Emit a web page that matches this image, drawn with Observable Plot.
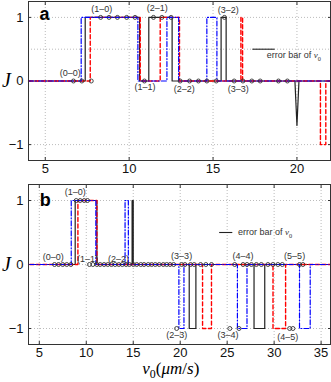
<!DOCTYPE html>
<html><head><meta charset="utf-8">
<script src="https://cdn.jsdelivr.net/npm/d3@7"></script>
<script src="https://cdn.jsdelivr.net/npm/@observablehq/plot@0.6"></script>
<style>
body{margin:0;background:#fff;}
#chart{width:331px;}
#chart svg{display:block;}
</style></head><body><div id="chart"></div>
<script>
// ---------- tick values ----------
const yTicks = [-1, 0, 1];
const gridYA = [-1, 0.5, 1];
const xTicksA = [5, 10, 15, 20];
const xTicksB = [5, 10, 15, 20, 25, 30, 35];

// ---------- panel a : step series (x breakpoints, J after breakpoint) ----------
const blackAx = [4, 7.38, 10.62, 11.17, 12.56, 15.48, 15.78, 22];
const blackAj = [0, 1, 0, 1, 0, 1, 0, 0];
const spikeAx = [19.88, 20.0, 20.12];
const spikeAj = [0, -0.7, 0];
const redAx = [4, 7.68, 10.66, 11.85, 13.0, 16.66, 16.76, 21.4, 21.72, 22];
const redAj = [0, 1, 0, 1, 0, 1, 0, -1, 0, 0];
const blueAx = [4, 7.14, 10.52, 12.25, 12.95, 14.63, 15.23, 22];
const blueAj = [0, 1, 0, 1, 0, 1, 0, 0];
// circles (experimental points)
const circA0 = [6.68, 7.18, 7.74, 10.91, 13.04, 13.6, 14.13, 14.63, 15.19, 16.26, 16.78, 17.31, 17.81, 18.9, 19.43];
const circA1 = [8.3, 8.8, 9.3, 9.85, 10.35, 11.45, 11.95, 12.5, 15.68];
// state labels
const labelsA = ["(0–0)", "(1–0)", "(1–1)", "(2–1)", "(2–2)", "(3–2)", "(3–3)"];
const labelAx = [6.49, 8.37, 10.95, 11.67, 13.28, 15.9, 16.5];
const labelAy = [0.13, 1.13, -0.1, 1.14, -0.12, 1.12, -0.12];
const errAx = [17.37, 18.7];
const errAy = 0.5;
const errTextA = {x: 18.2, y: 0.4};

// ---------- panel b ----------
const blackBx = [4, 8.82, 11.13, 14.88, 15.0, 20.96, 21.67, 27.86, 29.0, 36];
const blackBj = [0, 1, 0, 1, 0, -1, 0, -1, 0, 0];
const redBx = [4, 9.11, 11.13, 22.38, 23.33, 29.88, 31.22, 36];
const redBj = [0, 1, 0, -1, 0, -1, 0, 0];
const blueBx = [4, 8.4, 11.02, 14.13, 14.48, 19.86, 20.4, 26.09, 27.11, 32.7, 33.84, 36];
const blueBj = [0, 1, 0, 1, 0, -1, 0, -1, 0, -1, 0, 0];
const circB0 = [6.62, 7.05, 7.49, 7.92, 8.36,
  10.34, 10.7, 11.13, 11.48, 11.9, 12.29, 12.68, 13.07, 13.46, 13.84, 14.24, 14.59, 15.01, 15.37, 15.8, 16.15, 16.6, 16.96, 17.35, 17.77, 18.2, 18.56, 18.92, 19.3,
  20.15, 20.5, 21.1, 21.49, 22.17, 22.73, 23.33,
  25.8, 26.69, 27.11, 27.58, 28.11, 28.64, 29.34, 29.87, 30.4, 30.87,
  32.7, 33.06];
const circB1 = [8.93, 9.35, 9.78, 10.13];
const circBm1 = [19.62, 25.28, 26.26, 31.65, 32.0];
const labelsB = ["(0–0)", "(1–0)", "(1–1)", "(2–2)", "(3–3)", "(4–4)", "(5–5)", "(2–3)", "(3–4)", "(4–5)"];
const labelBx = [6.49, 8.82, 10.13, 13.42, 20.15, 26.69, 32.18, 19.62, 25.1, 31.46];
const labelBy = [0.11, 1.13, 0.09, 0.09, 0.13, 0.13, 0.13, -1.11, -1.11, -1.13];
const errBx = [24.2, 25.6];
const errBy = 0.5;
const errTextB = {x: 26.16, y: 0.5};

// ---------- helpers ----------
const rows = (xs, js) => xs.map((x, i) => ({x, y: js[i]}));
const pts = (xs, j) => xs.map(x => ({x, y: j}));
const lbls = (ts, xs, ys) => ts.map((t, i) => ({x: xs[i], y: ys[i], t}));
const intFmt = d => (d < 0 ? "\u2212" : "") + Math.abs(d);

const FONT = "Liberation Sans, Arial, Helvetica, sans-serif";
const SERIF = "Liberation Serif, Times New Roman, serif";
const styleBlack = {stroke: "#222", strokeWidth: 1.2};
const styleRed = {stroke: "#ff0000", strokeWidth: 1.4, strokeDasharray: "4,2.5"};
const styleBlue = {stroke: "#0000ff", strokeWidth: 1.2, strokeDasharray: "5,2,1,2"};

function panel(o) {
  const marks = [
    Plot.gridX(o.xTicks, {stroke: "#bbb", strokeOpacity: 1, strokeDasharray: "1,2"}),
    Plot.gridY(o.gridY, {stroke: "#bbb", strokeOpacity: 1, strokeDasharray: "1,2"}),
    Plot.axisX(o.xTicks, {anchor: "bottom", tickSize: 0, tickPadding: 3, label: null, tickFormat: intFmt, fontSize: 13, fill: "#111"}),
    Plot.axisY(yTicks, {anchor: "left", tickSize: 0, tickPadding: 5, label: null, tickFormat: intFmt, fontSize: 13, fill: "#111"}),
    Plot.axisX(o.xTicks, {anchor: "bottom", tickSize: -3, tickFormat: () => "", label: null, stroke: "#333"}),
    Plot.axisX(o.xTicks, {anchor: "top", tickSize: -3, tickFormat: () => "", label: null, stroke: "#333"}),
    Plot.axisY(yTicks, {anchor: "left", tickSize: -3, tickFormat: () => "", label: null, stroke: "#333"}),
    Plot.axisY(yTicks, {anchor: "right", tickSize: -3, tickFormat: () => "", label: null, stroke: "#333"}),
    ...o.series.map(s => Plot.line(s.data, {x: "x", y: "y", curve: s.curve || "step-after", ...s.style})),
    Plot.ruleY([{x1: o.err[0], x2: o.err[1], y: o.errY}], {x1: "x1", x2: "x2", y: "y", stroke: "#222", strokeWidth: 1.1}),
    Plot.text([o.errText], {x: "x", y: "y", text: () => "error bar of v0", textAnchor: "start", fontSize: 9, fill: "#333", fontFamily: FONT}),
    Plot.dot(o.circles, {x: "x", y: "y", r: 2, stroke: "#333", strokeWidth: 0.9, fill: "none"}),
    Plot.text(o.labels, {x: "x", y: "y", text: "t", fontSize: 9, fill: "#333", fontFamily: FONT}),
    Plot.text([o.letter], {x: "x", y: "y", text: "t", fontSize: 18, fontWeight: "bold", fill: "#000", fontFamily: FONT}),
    Plot.text([{x: o.xDomain[0], y: 0, t: "J"}], {x: "x", y: "y", text: "t", dx: -22, fontSize: 20, fontStyle: "italic", fontFamily: SERIF, fill: "#000"}),
    Plot.frame({stroke: "#333", strokeWidth: 1})
  ];
  if (o.xLabel) marks.push(Plot.text([o.xLabel], {x: "x", frameAnchor: "bottom", dy: 29, text: "t", fontSize: 17, fontFamily: SERIF, fill: "#000"}));
  const svg = Plot.plot({
    width: 331, height: o.height,
    marginLeft: 28, marginRight: 1, marginTop: 1, marginBottom: o.marginBottom,
    style: {fontFamily: FONT, fontSize: "13px", background: "#fff", overflow: "visible"},
    x: {domain: o.xDomain},
    y: {domain: [-1.25, 1.25]},
    marks
  });
  richify(svg);
  return svg;
}

function addParts(el, parts, shift) {
  el.textContent = "";
  const ns = "http://www.w3.org/2000/svg";
  let down = false;
  for (const [t, kind] of parts) {
    const ts = document.createElementNS(ns, "tspan");
    ts.textContent = t;
    if (kind === "it") { ts.setAttribute("font-style", "italic"); ts.setAttribute("font-family", SERIF); }
    if (kind === "rm") { ts.setAttribute("font-style", "normal"); ts.setAttribute("font-family", SERIF); }
    if (kind === "sub") {
      ts.setAttribute("font-size", "70%");
      ts.setAttribute("font-family", SERIF);
      ts.setAttribute("font-style", "normal");
      ts.setAttribute("dy", shift);
      down = true;
    } else if (down) {
      ts.setAttribute("dy", -shift);
      down = false;
    }
    el.appendChild(ts);
  }
}

function richify(svg) {
  d3.select(svg).selectAll("text").each(function() {
    if (this.childElementCount) return;
    const s = this.textContent;
    if (s === "error bar of v0") addParts(this, [["error bar of ", "plain"], ["v", "it"], ["0", "sub"]], 2.5);
    else if (s === "v0(μm/s)") addParts(this, [["v", "it"], ["0", "sub"], ["(", "rm"], ["μm", "it"], ["/", "rm"], ["s", "it"], [")", "rm"]], 4);
  });
}

const chart = document.getElementById("chart");
chart.appendChild(panel({
  height: 183, marginBottom: 23, xDomain: [4, 22], xTicks: xTicksA, gridY: gridYA,
  series: [
    {data: rows(blackAx, blackAj), style: styleBlack},
    {data: rows(spikeAx, spikeAj), style: styleBlack, curve: "linear"},
    {data: rows(redAx, redAj), style: styleRed},
    {data: rows(blueAx, blueAj), style: styleBlue}
  ],
  circles: [...pts(circA0, 0), ...pts(circA1, 1)],
  labels: lbls(labelsA, labelAx, labelAy),
  err: errAx, errY: errAy, errText: errTextA,
  letter: {x: 4.95, y: 1.05, t: "a"}
}));
chart.appendChild(panel({
  height: 199, marginBottom: 38, xDomain: [3.85, 36], xTicks: xTicksB, gridY: yTicks,
  series: [
    {data: rows(blackBx, blackBj), style: styleBlack},
    {data: rows(redBx, redBj), style: styleRed},
    {data: rows(blueBx, blueBj), style: styleBlue}
  ],
  circles: [...pts(circB0, 0), ...pts(circB1, 1), ...pts(circBm1, -1)],
  labels: lbls(labelsB, labelBx, labelBy),
  err: errBx, errY: errBy, errText: errTextB,
  letter: {x: 5.64, y: 1.0, t: "b"},
  xLabel: {x: 19.0, t: "v0(μm/s)"}
}));
</script>
</body></html>
